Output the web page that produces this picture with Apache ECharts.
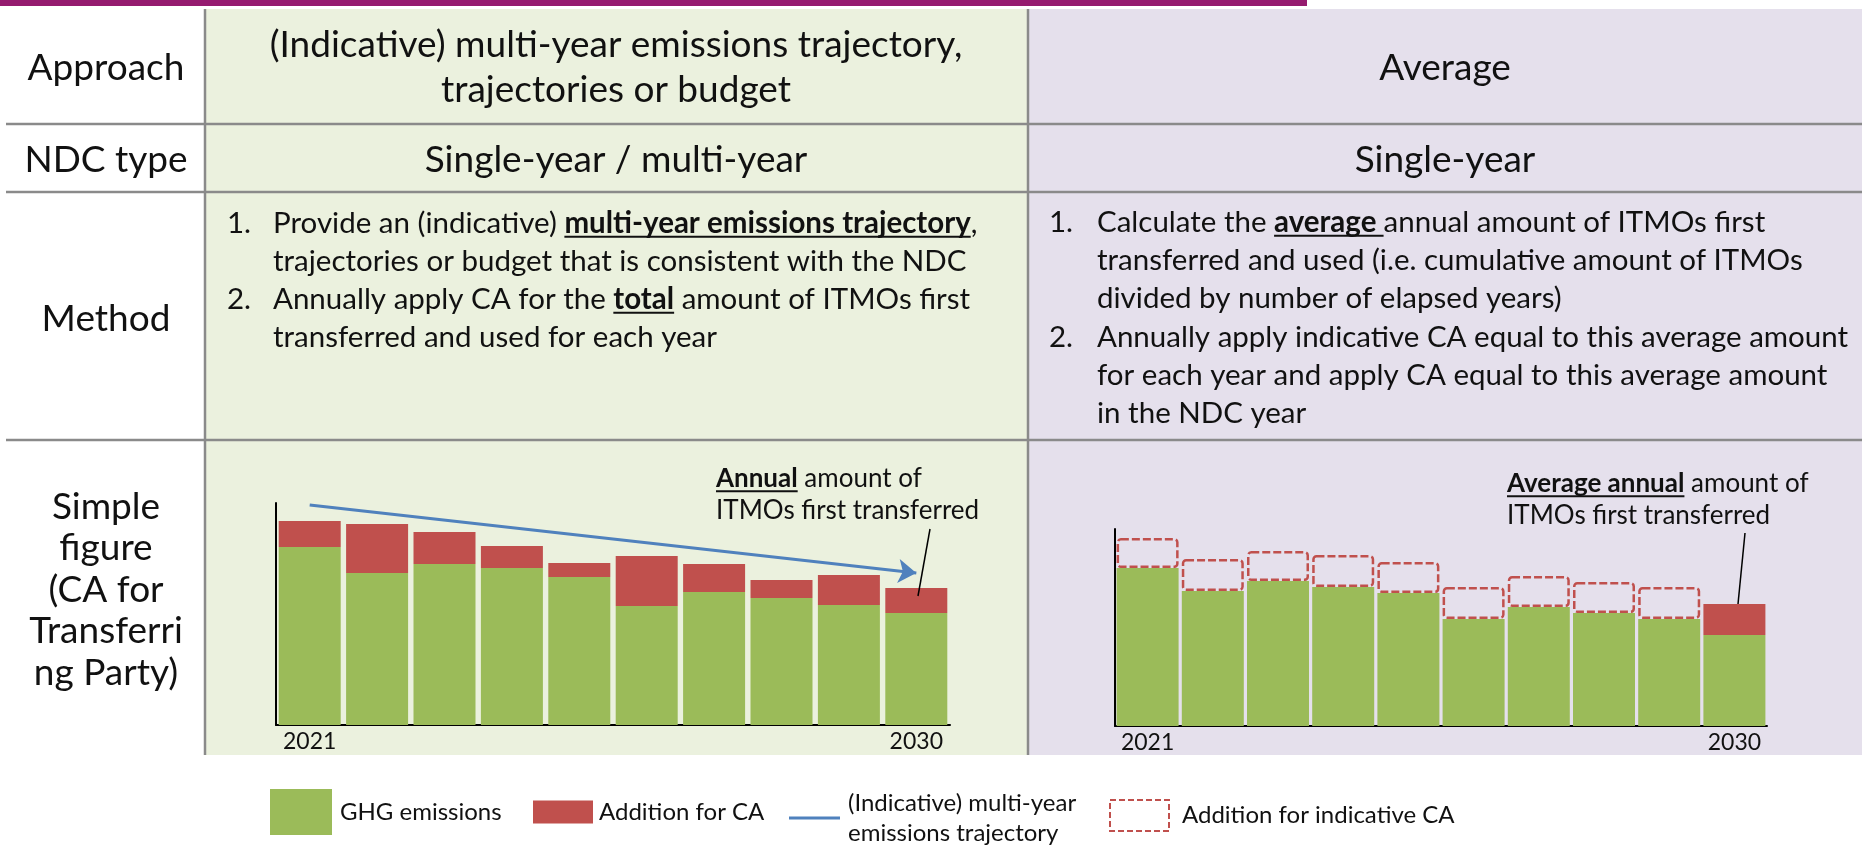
<!DOCTYPE html>
<html>
<head>
<meta charset="utf-8">
<script src="https://cdn.jsdelivr.net/npm/echarts@6/dist/echarts.min.js"></script>
<style>
  html, body { margin: 0; padding: 0; background: #fff; }
  #main { width: 1862px; height: 846px; }
</style>
</head>
<body>
<div id="main"></div>
<script>
// values (arbitrary emission units)
const years = ["2021", "2022", "2023", "2024", "2025", "2026", "2027", "2028", "2029", "2030"];
// left panel: trajectory approach
const ghgTrajectory = [178, 152, 161, 157, 148, 119, 133, 127, 120, 112];
const caAnnual = [26, 49, 32, 22, 14, 50, 28, 18, 30, 25];
const trajectoryEnds = [220, 152]; // 2021 -> 2030
// right panel: average approach
const ghgAverage = [158, 135, 145, 139, 133, 107, 119, 113, 107, 91];
const caIndicative = [30, 32, 30, 32, 31, 32, 31, 31, 32, "-"];
const caNdcYear = ["-", "-", "-", "-", "-", "-", "-", "-", "-", 31];

const GREEN = "#9bbb59";
const RED = "#c0504d";
const BLUE = "#4f81bd";
const FONT = "Lato";
const INK = "#111";

const ctx = document.createElement("canvas").getContext("2d");
function textWidth(str, size, bold) {
  ctx.font = (bold ? "bold " : "") + size + "px " + FONT;
  return ctx.measureText(str).width;
}

const graphic = [];

function txt(x, y, text, size, opts) {
  opts = opts || {};
  graphic.push({
    type: "text",
    x: x,
    y: y,
    z: 10,
    style: {
      text: text,
      font: (opts.bold ? "bold " : "") + size + "px " + FONT,
      fill: INK,
      textAlign: opts.align || "left",
      textVerticalAlign: "middle",
      align: opts.align || "left",
      verticalAlign: "middle",
      lineHeight: opts.lineHeight,
    },
  });
}

function line(x1, y1, x2, y2, color, width, z) {
  graphic.push({
    type: "line",
    z: z === undefined ? 10 : z,
    shape: { x1: x1, y1: y1, x2: x2, y2: y2 },
    style: { stroke: color, lineWidth: width },
  });
}

// a text line made of segments, some bold/underlined
function richLine(x, y, size, segs) {
  let cx = x;
  segs.forEach((s) => {
    const w = textWidth(s.t, size, s.b);
    txt(cx, y, s.t, size, { bold: s.b });
    if (s.u) line(cx, y + size * 0.47, cx + w, y + size * 0.47, INK, 2);
    cx += w;
  });
}

// panel backgrounds and rules
graphic.push({ type: "rect", z: -10, shape: { x: 0, y: 0, width: 1307, height: 6 }, style: { fill: "#951b6f" } });
graphic.push({ type: "rect", z: -10, shape: { x: 205, y: 9, width: 823, height: 746 }, style: { fill: "#ebf1de" } });
graphic.push({ type: "rect", z: -10, shape: { x: 1028, y: 9, width: 834, height: 746 }, style: { fill: "#e5e0ec" } });
[124, 192, 440].forEach((y) => line(6, y, 1862, y, "#8a8a8a", 2.5, -5));
[205, 1028].forEach((x) => line(x, 9, x, 755, "#8a8a8a", 2.5, -5));

// row labels
const HEAD = 37;
txt(106, 68, "Approach", HEAD, { align: "center" });
txt(106, 160, "NDC type", HEAD, { align: "center" });
txt(106, 319, "Method", HEAD, { align: "center" });
txt(106, 590, "Simple\nfigure\n(CA for\nTransferri\nng Party)", HEAD, { align: "center", lineHeight: 41.5 });

// column headers
txt(616, 68, "(Indicative) multi-year emissions trajectory,\ntrajectories or budget", HEAD, { align: "center", lineHeight: 45 });
txt(616, 160, "Single-year / multi-year", HEAD, { align: "center" });
txt(1445, 68, "Average", HEAD, { align: "center" });
txt(1445, 160, "Single-year", HEAD, { align: "center" });

// method text
const M = 29.5;
txt(227, 223, "1.", M);
richLine(273, 223, M, [{ t: "Provide an (indicative) " }, { t: "multi-year emissions trajectory", b: true, u: true }, { t: "," }]);
richLine(273, 261, M, [{ t: "trajectories or budget that is consistent with the NDC" }]);
txt(227, 299, "2.", M);
richLine(273, 299, M, [{ t: "Annually apply CA for the " }, { t: "total", b: true, u: true }, { t: " amount of ITMOs first" }]);
richLine(273, 337, M, [{ t: "transferred and used for each year" }]);

txt(1049, 222, "1.", M);
richLine(1097, 222, M, [{ t: "Calculate the " }, { t: "average ", b: true, u: true }, { t: "annual amount of ITMOs first" }]);
richLine(1097, 260, M, [{ t: "transferred and used (i.e. cumulative amount of ITMOs" }]);
richLine(1097, 298, M, [{ t: "divided by number of elapsed years)" }]);
txt(1049, 337, "2.", M);
richLine(1097, 337, M, [{ t: "Annually apply indicative CA equal to this average amount" }]);
richLine(1097, 375, M, [{ t: "for each year and apply CA equal to this average amount" }]);
richLine(1097, 413, M, [{ t: "in the NDC year" }]);

// callouts
const A = 26;
richLine(716, 479, A, [{ t: "Annual", b: true, u: true }, { t: " amount of" }]);
richLine(716, 511, A, [{ t: "ITMOs first transferred" }]);
line(930, 529, 918, 596, "#000", 1.5);
richLine(1507, 484, A, [{ t: "Average annual", b: true, u: true }, { t: " amount of" }]);
richLine(1507, 516, A, [{ t: "ITMOs first transferred" }]);
line(1745, 533, 1738, 604, "#000", 1.5);

const axisBase = {
  type: "category",
  data: years,
  axisLine: { lineStyle: { color: "#000", width: 2 } },
  axisTick: { show: false },
  axisLabel: {
    interval: (i) => i === 0 || i === years.length - 1,
    fontFamily: FONT,
    fontSize: 23,
    color: INK,
    margin: 5,
  },
};
const yBase = {
  type: "value",
  min: 0,
  axisLine: { show: true, lineStyle: { color: "#000", width: 2 } },
  axisTick: { show: false },
  axisLabel: { show: false },
  splitLine: { show: false },
};

const legendText = { fontFamily: FONT, fontSize: 24, color: INK };

const option = {
  animation: false,
  backgroundColor: "#fff",
  textStyle: { fontFamily: FONT },
  grid: [
    { left: 276, top: 503, width: 674, height: 222 },
    { left: 1115, top: 529, width: 652, height: 197 },
  ],
  xAxis: [
    Object.assign({ gridIndex: 0 }, axisBase),
    Object.assign({ gridIndex: 1 }, axisBase),
  ],
  yAxis: [
    Object.assign({ gridIndex: 0, max: 222 }, yBase),
    Object.assign({ gridIndex: 1, max: 197 }, yBase),
  ],
  legend: [
    {
      data: ["GHG emissions"], left: 270, top: 789, padding: 0,
      itemWidth: 62, itemHeight: 46, icon: "rect", selectedMode: false,
      textStyle: Object.assign({ padding: [10, 0, 0, 3] }, legendText),
    },
    {
      data: ["Addition for CA"], left: 533, top: 800, padding: 0,
      itemWidth: 60, itemHeight: 23, icon: "rect", selectedMode: false,
      textStyle: Object.assign({ padding: [6, 0, 0, 1] }, legendText),
    },
    {
      data: ["(Indicative) multi-year emissions trajectory"], left: 789, top: 785, padding: 0,
      itemWidth: 51, itemHeight: 3, icon: "rect", selectedMode: false,
      itemStyle: { color: BLUE },
      formatter: () => "(Indicative) multi-year\nemissions trajectory",
      textStyle: Object.assign({ lineHeight: 30, padding: [6, 0, 0, 3] }, legendText),
    },
    {
      data: ["Addition for indicative CA"], left: 1109, top: 799, padding: 0,
      itemWidth: 59, itemHeight: 31, icon: "rect", selectedMode: false,
      itemStyle: { color: "rgba(0,0,0,0)", borderColor: RED, borderWidth: 2, borderType: [6, 3] },
      textStyle: Object.assign({ padding: [6, 0, 0, 8] }, legendText),
    },
  ],
  series: [
    {
      name: "GHG emissions", type: "bar", xAxisIndex: 0, yAxisIndex: 0, stack: "traj",
      barWidth: 62, data: ghgTrajectory, itemStyle: { color: GREEN },
    },
    {
      name: "Addition for CA", type: "bar", xAxisIndex: 0, yAxisIndex: 0, stack: "traj",
      barWidth: 62, data: caAnnual, itemStyle: { color: RED },
    },
    {
      name: "(Indicative) multi-year emissions trajectory", type: "line", xAxisIndex: 0, yAxisIndex: 0,
      data: [], symbol: "none", lineStyle: { color: BLUE, width: 3 }, itemStyle: { color: BLUE },
      markLine: {
        silent: true,
        symbol: ["none", "arrow"],
        symbolSize: 18,
        label: { show: false },
        lineStyle: { color: BLUE, width: 3, type: "solid" },
        data: [[{ coord: [0, trajectoryEnds[0]] }, { coord: [years.length - 1, trajectoryEnds[1]] }]],
      },
    },
    {
      name: "GHG emissions", type: "bar", xAxisIndex: 1, yAxisIndex: 1, stack: "avg",
      barWidth: 62, data: ghgAverage, itemStyle: { color: GREEN },
    },
    {
      name: "Addition for indicative CA", type: "bar", xAxisIndex: 1, yAxisIndex: 1, stack: "avg",
      barWidth: 58, data: caIndicative,
      itemStyle: { color: "rgba(0,0,0,0)", borderColor: RED, borderWidth: 2.5, borderType: [8, 3], borderRadius: 3 },
    },
    {
      name: "Addition for CA", type: "bar", xAxisIndex: 1, yAxisIndex: 1, stack: "avg",
      barWidth: 62, data: caNdcYear, itemStyle: { color: RED },
    },
  ],
  graphic: graphic,
};

const chart = echarts.init(document.getElementById("main"));
chart.setOption(option);
</script>
</body>
</html>
